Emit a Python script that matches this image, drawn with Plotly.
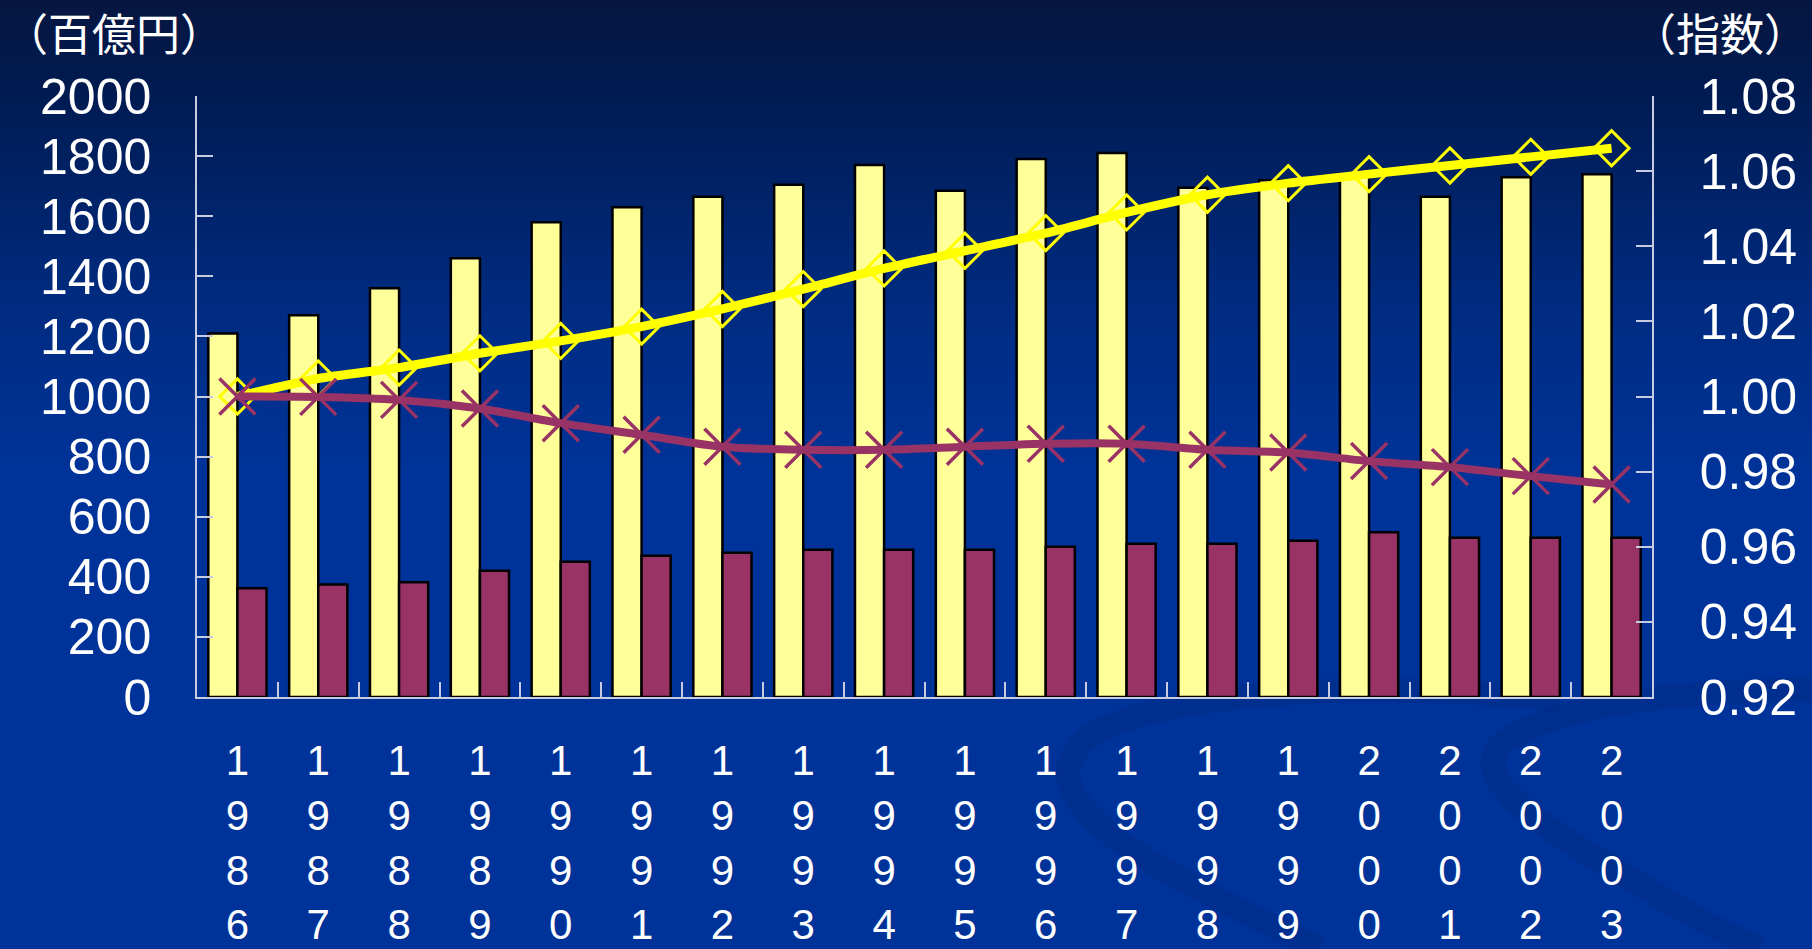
import base64
import plotly.graph_objects as go

# ---- data ----
years = ["1986", "1987", "1988", "1989", "1990", "1991", "1992", "1993", "1994",
         "1995", "1996", "1997", "1998", "1999", "2000", "2001", "2002", "2003"]
bar_yellow = [1210, 1270, 1360, 1460, 1580, 1630, 1665, 1705, 1770,
              1685, 1790, 1810, 1695, 1720, 1740, 1665, 1730, 1740]
bar_maroon = [362, 374, 382, 420, 450, 470, 480, 490, 490,
              490, 500, 510, 510, 520, 548, 530, 530, 530]
line_yellow = [1.0000, 1.0048, 1.0077, 1.0115, 1.0148, 1.0186, 1.0233, 1.0286, 1.0341,
               1.0388, 1.0435, 1.0490, 1.0537, 1.0568, 1.0592, 1.0615, 1.0638, 1.0661]
line_maroon = [1.0000, 0.9999, 0.9991, 0.9968, 0.9929, 0.9898, 0.9866, 0.9858, 0.9858,
               0.9866, 0.9874, 0.9874, 0.9858, 0.9851, 0.9828, 0.9812, 0.9788, 0.9766]
left_title = "（百億円）"
right_title = "（指数）"

x_labels = ["<br>".join(list(y)) for y in years]

W, H = 1812, 949
ML, MR, MT, MB = 197, 160, 96, 252
PW, PH = W - ML - MR, H - MT - MB

# ---- background (gradient + subtle swooshes) ----
svg = f'''<svg xmlns="http://www.w3.org/2000/svg" width="{W}" height="{H}" viewBox="0 0 {W} {H}" preserveAspectRatio="none">
<defs><linearGradient id="g" x1="0" y1="0" x2="0" y2="1">
<stop offset="0" stop-color="#061640"/>
<stop offset="0.10" stop-color="#001b52"/>
<stop offset="0.32" stop-color="#002b80"/>
<stop offset="0.50" stop-color="#003399"/>
<stop offset="1" stop-color="#003399"/>
</linearGradient></defs>
<rect width="{W}" height="{H}" fill="url(#g)"/>
<path d="M 1560 700 C 1380 680 1150 690 1085 740 C 1030 790 1120 850 1220 900 C 1270 925 1300 940 1320 949"
 fill="none" stroke="#00297f" stroke-opacity="0.35" stroke-width="24"/>
<path d="M 1812 690 C 1700 690 1560 700 1500 745 C 1460 790 1600 860 1700 920 C 1730 935 1750 945 1760 949"
 fill="none" stroke="#00297f" stroke-opacity="0.35" stroke-width="24"/>
</svg>'''
bg_src = "data:image/svg+xml;base64," + base64.b64encode(svg.encode("utf-8")).decode("ascii")

fig = go.Figure()

fig.add_trace(go.Bar(
    x=x_labels, y=bar_yellow, marker=dict(color="#FFFF99", line=dict(color="#000000", width=2.5)),
    yaxis="y", showlegend=False))
fig.add_trace(go.Bar(
    x=x_labels, y=bar_maroon, marker=dict(color="#993366", line=dict(color="#000000", width=2.5)),
    yaxis="y", showlegend=False))
fig.add_trace(go.Scatter(
    x=x_labels, y=line_yellow, yaxis="y2", mode="lines+markers",
    line=dict(color="#FFFF00", width=9, shape="spline", smoothing=0.6),
    marker=dict(symbol="diamond-open", size=27, color="#FFFF00", line=dict(color="#FFFF00", width=3)),
    showlegend=False))
fig.add_trace(go.Scatter(
    x=x_labels, y=line_maroon, yaxis="y2", mode="lines+markers",
    line=dict(color="#993366", width=8, shape="spline", smoothing=0.8),
    marker=dict(symbol="x-thin-open", size=36, color="#993366", line=dict(color="#993366", width=3.5)),
    showlegend=False))

tick_font = dict(family="Liberation Sans, Arial, sans-serif", size=50, color="#FFFFFF")
axis_col = "#C8CCE0"
title_font = dict(family="Noto Sans CJK JP", size=44, color="#FFFFFF")

fig.update_layout(
    width=W, height=H, autosize=False,
    margin=dict(l=ML, r=MR, t=MT, b=MB, pad=0),
    paper_bgcolor="rgba(0,0,0,0)", plot_bgcolor="rgba(0,0,0,0)",
    barmode="group", bargap=0.28, bargroupgap=0,
    xaxis=dict(
        type="category", range=[-0.5, len(years) - 0.5], showgrid=False, showline=True,
        linecolor=axis_col, linewidth=2,
        ticks="inside", tickson="boundaries", ticklen=15, tickwidth=1.5, tickcolor=axis_col,
        tickfont=dict(family="Liberation Sans, Arial, sans-serif", size=42, color="#FFFFFF"),
        tickangle=0, ticklabelstandoff=26, automargin=False, fixedrange=True),
    yaxis=dict(
        range=[0, 2000], dtick=200, showgrid=False, zeroline=False,
        showline=True, linecolor=axis_col, linewidth=1.5,
        ticks="inside", ticklen=16, tickwidth=1.5, tickcolor=axis_col,
        tickfont=tick_font, ticklabelstandoff=34, automargin=False),
    yaxis2=dict(
        range=[0.92, 1.08], dtick=0.02, tickformat=".2f", overlaying="y", side="right",
        showgrid=False, zeroline=False, showline=True, linecolor=axis_col, linewidth=1.5,
        ticks="inside", ticklen=16, tickwidth=1.5, tickcolor=axis_col,
        tickfont=tick_font, ticklabelstandoff=36, automargin=False),
    images=[dict(
        source=bg_src, xref="paper", yref="paper",
        x=-ML / PW, y=1 + MT / PH, sizex=W / PW, sizey=H / PH,
        xanchor="left", yanchor="top", sizing="stretch", layer="below")],
    annotations=[
        dict(text=left_title, xref="paper", yref="paper", x=(-ML + 2) / PW, y=1 + (MT - 32) / PH,
             xanchor="left", yanchor="middle", showarrow=False, font=title_font),
        dict(text=right_title, xref="paper", yref="paper", x=1 + (MR - 2) / PW, y=1 + (MT - 32) / PH,
             xanchor="right", yanchor="middle", showarrow=False, font=title_font),
    ],
)

fig.write_html("out.html")
